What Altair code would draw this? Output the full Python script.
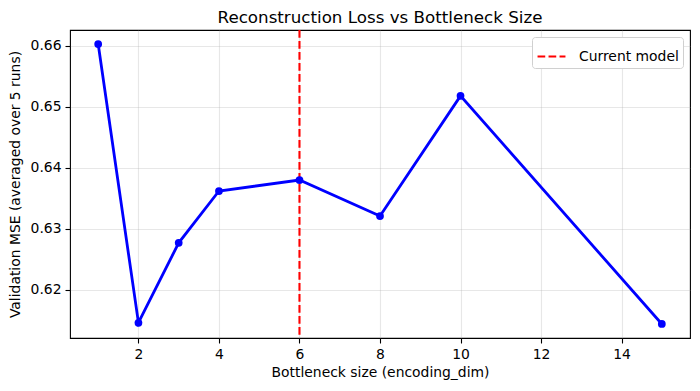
import altair as alt
import pandas as pd

dims = [1, 2, 3, 4, 6, 8, 10, 15]
mse = [0.6603, 0.6146, 0.6277, 0.6362, 0.6380, 0.6321, 0.6518, 0.6144]
current = [6]
x_ticks = [2, 4, 6, 8, 10, 12, 14]
y_ticks = [0.62, 0.63, 0.64, 0.65, 0.66]

df = pd.DataFrame({"dim": dims, "mse": mse})
vdf = pd.DataFrame({"dim": current, "label": ["Current model"]})

font = "DejaVu Sans"
fs = 13.9

xscale = alt.Scale(domain=[0.3, 15.7], nice=False, zero=False)
yscale = alt.Scale(domain=[0.6121, 0.6626], nice=False, zero=False)

common = dict(grid=True, gridColor="#b0b0b0", gridOpacity=0.3, gridWidth=1.1,
              tickColor="black", tickWidth=1.1, labelColor="black", titleColor="black",
              labelFontSize=fs, titleFontSize=fs, titleFontWeight="normal",
              labelFont=font, titleFont=font, domain=False, tickSize=5, labelPadding=4)

xaxis = alt.Axis(values=x_ticks, title="Bottleneck size (encoding_dim)", titlePadding=5, **common)
yaxis = alt.Axis(values=y_ticks, format=".2f", title="Validation MSE (averaged over 5 runs)",
                 titlePadding=8, **common)

line = alt.Chart(df).mark_line(color="#0000ff", strokeWidth=2.8).encode(
    x=alt.X("dim:Q", scale=xscale, axis=xaxis),
    y=alt.Y("mse:Q", scale=yscale, axis=yaxis),
)
pts = alt.Chart(df).mark_point(filled=True, color="#0000ff", size=60, opacity=1).encode(
    x=alt.X("dim:Q", scale=xscale),
    y=alt.Y("mse:Q", scale=yscale),
)
rule = alt.Chart(vdf).mark_rule(strokeWidth=2.1, strokeDash=[7.7, 3.3]).encode(
    x=alt.X("dim:Q", scale=xscale),
    color=alt.Color("label:N", scale=alt.Scale(range=["#ff0000"]),
                    legend=alt.Legend(title=None, orient="top-right", offset=7,
                                      symbolType="stroke", symbolDash=[7.7, 3.3],
                                      symbolStrokeWidth=2.1, symbolSize=780,
                                      fillColor="white", strokeColor="#d0d0d0",
                                      cornerRadius=3, padding=4, labelFontSize=fs,
                                      labelFont=font, labelColor="black",
                                      labelOffset=12)),
)

chart = alt.layer(line, rule, pts).properties(
    width=620, height=308,
    title=alt.TitleParams("Reconstruction Loss vs Bottleneck Size", font=font,
                          fontSize=16.7, fontWeight="normal", color="black", offset=2),
    autosize=alt.AutoSizeParams(type="none"),
    padding={"left": 62, "top": 22, "right": 2, "bottom": 45},
).configure_view(stroke="black", strokeWidth=1.1)

chart.save("out.html", embed_options={"renderer": "svg", "actions": False})
